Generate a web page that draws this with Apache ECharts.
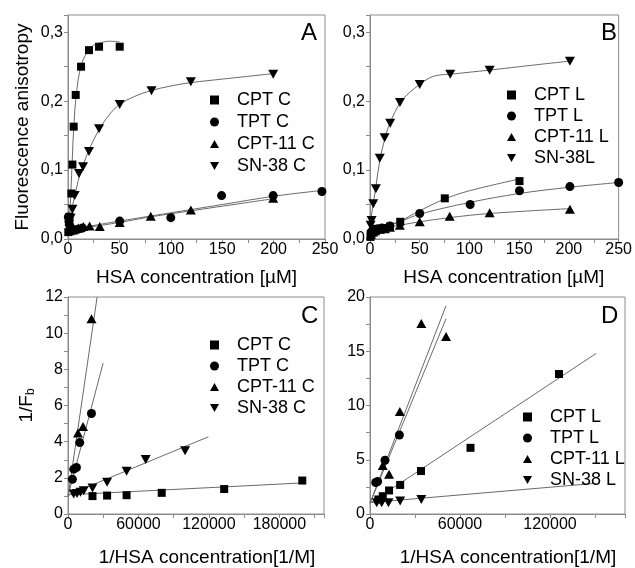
<!DOCTYPE html>
<html>
<head>
<meta charset="utf-8">
<script src="https://cdn.jsdelivr.net/npm/echarts@6/dist/echarts.min.js"></script>
<style>
html,body{margin:0;padding:0;background:#fff;}
#c{width:635px;height:568px;}
</style>
</head>
<body>
<div id="c"></div>
<script>
// ---------- Panel A (CPT family, carboxylate form) ----------
const cptC_A   = [[0.3,0.010],[0.8,0.025],[1.5,0.032],[3.3,0.066],[4.3,0.108],[5.5,0.163],[7.5,0.209],[12.7,0.250],[20.4,0.274],[30.2,0.279],[50.3,0.279]];
const tptC_A   = [[0.3,0.032],[1.6,0.020],[2.5,0.015],[5,0.014],[9.7,0.014],[14,0.016],[50.3,0.026],[100,0.031],[149.4,0.063],[199.6,0.063],[247,0.069]];
const cpt11C_A = [[2,0.012],[5,0.013],[10,0.016],[15,0.018],[21,0.019],[30.9,0.018],[50.3,0.024],[80.5,0.033],[119.5,0.042],[199.6,0.059]];
const sn38C_A  = [[1,0.020],[2.5,0.030],[4.3,0.043],[6.5,0.063],[10.7,0.095],[14.6,0.105],[20.4,0.127],[30.2,0.160],[50.3,0.195],[81.2,0.215],[119.5,0.228],[199.6,0.239]];
const fitCptC_A   = [[0,0.010],[2,0.045],[3,0.075],[4,0.110],[5,0.145],[6,0.172],[7.5,0.202],[10,0.232],[12.5,0.250],[15,0.261],[20,0.274],[25,0.281],[30,0.284],[40,0.287],[50,0.286]];
const fitSn38C_A  = [[0,0.020],[5,0.052],[10,0.085],[15,0.108],[20,0.128],[30,0.158],[40,0.180],[50,0.195],[65,0.207],[80,0.215],[100,0.222],[120,0.227],[150,0.232],[200,0.240]];
const fitTptC_A   = [[15,0.017],[50,0.026],[100,0.038],[150,0.050],[200,0.062],[250,0.071]];
const fitCpt11C_A = [[15,0.016],[50,0.024],[80,0.032],[120,0.041],[200,0.0585]];

// ---------- Panel B (lactone form) ----------
const cptL_B   = [[0.5,0.003],[1,0.006],[2,0.009],[4,0.011],[6,0.012],[10,0.014],[15,0.016],[20,0.018],[30.4,0.025],[75.2,0.059],[150.3,0.084]];
const tptL_B   = [[1,0.010],[3,0.013],[5,0.014],[8,0.015],[12,0.016],[20,0.019],[50,0.037],[100.7,0.050],[150.3,0.070],[201,0.076],[250,0.082]];
const cpt11L_B = [[1,0.007],[3,0.010],[5,0.012],[10,0.014],[15,0.015],[20,0.017],[30,0.020],[50,0.025],[80.1,0.033],[120.3,0.038],[201,0.043]];
const sn38L_B  = [[0.6,0.020],[1.6,0.027],[3.3,0.051],[5.9,0.073],[9.8,0.117],[14.7,0.147],[20.3,0.168],[30.1,0.198],[50,0.224],[80.7,0.239],[120.3,0.245],[201,0.258]];
const fitSn38L_B  = [[0,0.015],[2,0.040],[4,0.058],[6,0.077],[10,0.115],[15,0.146],[20,0.168],[30,0.197],[40,0.213],[50,0.224],[60,0.234],[70,0.238],[80,0.239],[100,0.242],[120,0.245],[150,0.250],[200,0.258]];
const fitCptL_B   = [[10,0.015],[30,0.026],[50,0.041],[75,0.058],[100,0.070],[150,0.087]];
const fitTptL_B   = [[10,0.015],[30,0.025],[50,0.036],[100,0.053],[150,0.066],[200,0.075],[250,0.082]];
const fitCpt11L_B = [[10,0.015],[30,0.020],[50,0.025],[80,0.031],[120,0.037],[200,0.044]];

// ---------- Panel C (double reciprocal, carboxylate) ----------
const cptC_C   = [[20850,0.99],[33300,1.02],[49900,1.04],[79800,1.17],[133000,1.38],[199500,1.85]];
const tptC_C   = [[3760,1.92],[4870,2.48],[7180,2.57],[10000,3.95],[20000,5.56]];
const cpt11C_C = [[8500,4.48],[12800,4.84],[20000,10.8]];
const sn38C_C  = [[4870,1.11],[7700,1.13],[10600,1.20],[13400,1.29],[20850,1.44],[33300,1.76],[49900,2.37],[66150,3.01],[99700,3.50]];
const fitCptC_C   = [[0,1.06],[200000,1.72]];
const fitTptC_C   = [[0,1.00],[29900,8.34]];
const fitCpt11C_C = [[0,0.95],[24800,12]];
const fitSn38C_C  = [[0,1.05],[119600,4.27]];

// ---------- Panel D (double reciprocal, lactone) ----------
const cptL_D   = [[5600,1.34],[8500,1.64],[12700,2.17],[20100,2.68],[34000,3.96],[67000,6.10],[126000,12.9]];
const tptL_D   = [[3800,2.90],[5100,3.00],[10000,4.95],[19600,7.28]];
const cpt11L_D = [[8500,4.46],[12700,3.66],[19900,9.44],[34200,17.56],[50700,16.37]];
const sn38L_D  = [[4470,1.04],[7800,1.04],[12300,1.04],[20100,1.19],[34200,1.34]];
const fitCptL_D   = [[0,1.00],[150800,14.8]];
const fitTptL_D   = [[0,1.00],[50700,18.0]];
const fitCpt11L_D = [[0,1.00],[50700,19.2]];
const fitSn38L_D  = [[0,1.05],[150800,2.83]];

const namesC = ['CPT C','TPT C','CPT-11 C','SN-38 C'];
const namesL_B = ['CPT L','TPT L','CPT-11 L','SN-38L'];
const namesL_D = ['CPT L','TPT L','CPT-11 L','SN-38 L'];
const panelLetters = ['A','B','C','D'];

// ---------- styling ----------
const FONT = 'Liberation Sans';
const GRAY = '#8c8c8c';
const SQ = 'rect', CI = 'circle', UP = 'path://M5,0L10,9L0,9Z', DN = 'path://M0,0L10,0L5,9Z';
const SYM = [SQ, CI, UP, DN];
const SIZES = [8, 9, [10, 9], [10, 9]];

const grids = [
  {left: 68, top: 15, width: 257, height: 224},
  {left: 370, top: 15, width: 256, height: 224},
  {left: 68, top: 297, width: 256, height: 223},
  {left: 370, top: 297, width: 255, height: 223}
];

function isMult(v, step) { const r = v / step; return Math.abs(r - Math.round(r)) < 1e-6; }

function mkX(gi, max, interval, fmt, name, shift) {
  return {
    type: 'value', gridIndex: gi, min: 0, max: max, interval: interval,
    name: name, nameLocation: 'middle', nameGap: gi < 2 ? 29 : 34,
    nameTextStyle: {fontFamily: FONT, fontSize: 19, color: '#000', padding: [0, 0, 0, shift]},
    axisLine: {show: true, lineStyle: {color: GRAY}},
    axisTick: {show: true, length: 4, lineStyle: {color: GRAY}},
    minorTick: {show: true, splitNumber: 2, length: 4, lineStyle: {color: GRAY}},
    splitLine: {show: false},
    axisLabel: {fontFamily: FONT, fontSize: 16, color: '#000', margin: 3,
      formatter: v => isMult(v, interval) ? fmt(v) : ''}
  };
}
function mkY(gi, max, interval, fmt, name, gap, rich) {
  return {
    type: 'value', gridIndex: gi, min: 0, max: max, interval: interval,
    name: name || '', nameLocation: 'middle', nameGap: gap || 0,
    nameTextStyle: {fontFamily: FONT, fontSize: 19, color: '#000', rich: rich || {}},
    axisLine: {show: true, lineStyle: {color: GRAY}},
    axisTick: {show: true, length: 4, lineStyle: {color: GRAY}},
    minorTick: {show: true, splitNumber: 2, length: 4, lineStyle: {color: GRAY}},
    splitLine: {show: false},
    axisLabel: {fontFamily: FONT, fontSize: 16, color: '#000', margin: 5,
      formatter: v => isMult(v, interval) ? fmt(v) : ''}
  };
}
const fmtComma = v => v.toFixed(1).replace('.', ',');
const fmtInt = v => String(Math.round(v));

const series = [];
function addPanel(gi, names, pts, fits, smooth) {
  fits.forEach((f, i) => {
    series.push({type: 'line', name: 'fit' + gi + '_' + i, xAxisIndex: gi, yAxisIndex: gi,
      data: f, showSymbol: false, symbol: 'none', smooth: smooth ? 0.35 : false,
      lineStyle: {color: '#6a6a6a', width: 1}, z: 1, silent: true, animation: false});
  });
  pts.forEach((p, i) => {
    series.push({type: 'scatter', name: names[i], xAxisIndex: gi, yAxisIndex: gi,
      data: p, symbol: SYM[i], symbolSize: SIZES[i],
      itemStyle: {color: '#000', opacity: 1}, z: 3, animation: false});
  });
}
addPanel(0, namesC, [cptC_A, tptC_A, cpt11C_A, sn38C_A], [fitCptC_A, fitSn38C_A, fitTptC_A, fitCpt11C_A], true);
addPanel(1, namesL_B, [cptL_B, tptL_B, cpt11L_B, sn38L_B], [fitSn38L_B, fitCptL_B, fitTptL_B, fitCpt11L_B], true);
addPanel(2, namesC, [cptC_C, tptC_C, cpt11C_C, sn38C_C], [fitCptC_C, fitTptC_C, fitCpt11C_C, fitSn38C_C], false);
addPanel(3, namesL_D, [cptL_D, tptL_D, cpt11L_D, sn38L_D], [fitCptL_D, fitTptL_D, fitCpt11L_D, fitSn38L_D], false);

function mkLegend(names, left, top, gap) {
  return {
    orient: 'vertical', left: left, top: top, padding: 0, itemGap: gap,
    itemWidth: 9, itemHeight: 9, selectedMode: false,
    textStyle: {fontFamily: FONT, fontSize: 18, color: '#000', padding: [0, 0, 0, 13]},
    data: names.map((n, i) => ({name: n, icon: SYM[i]}))
  };
}

const letterPos = [[301, 21], [601, 21], [301, 304], [601, 304]];

const option = {
  animation: false,
  backgroundColor: '#fff',
  grid: grids.map(g => Object.assign({show: true, borderColor: GRAY, borderWidth: 1, backgroundColor: 'transparent', containLabel: false}, g)),
  title: panelLetters.map((t, i) => ({text: t, left: letterPos[i][0], top: letterPos[i][1], padding: 0,
    textStyle: {fontFamily: FONT, fontSize: 24, fontWeight: 'normal', color: '#000'}})),
  xAxis: [
    mkX(0, 250, 50, fmtInt, 'HSA concentration [µM]', 0),
    mkX(1, 250, 50, fmtInt, 'HSA concentration [µM]', 19),
    mkX(2, 218000, 60000, fmtInt, '1/HSA concentration[1/M]', 22),
    mkX(3, 170000, 60000, fmtInt, '1/HSA concentration[1/M]', 21)
  ],
  yAxis: [
    mkY(0, 0.325, 0.1, fmtComma, 'Fluorescence anisotropy', 36),
    mkY(1, 0.325, 0.1, fmtComma),
    mkY(2, 12, 2, fmtInt, '1/F{sub|b}', 31, {sub: {fontFamily: FONT, fontSize: 12, padding: [9, 0, 0, 0]}}),
    mkY(3, 20, 5, fmtInt)
  ],
  legend: [
    mkLegend(namesC, 210, 91, 4),
    mkLegend(namesL_B, 507, 86, 3),
    mkLegend(namesC, 210, 336, 3),
    mkLegend(namesL_D, 523, 408, 3)
  ],
  series: series
};

const chart = echarts.init(document.getElementById('c'), null, {renderer: 'canvas'});
chart.setOption(option);
</script>
</body>
</html>
